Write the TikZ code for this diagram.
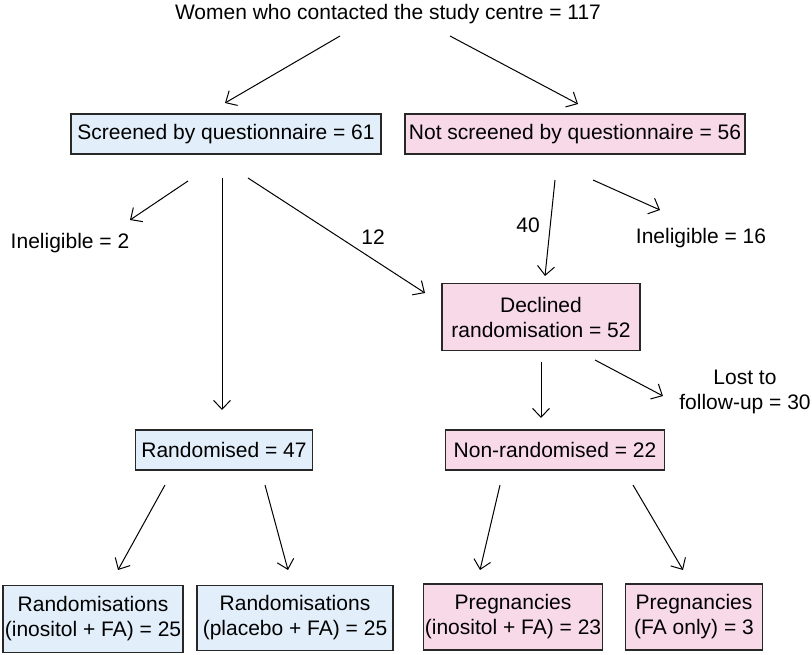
\documentclass[tikz,border=0pt]{standalone}
\usepackage{fontspec}
\setmainfont{Liberation Sans}
\usetikzlibrary{arrows.meta, calc}

\definecolor{scrblue}{RGB}{226,239,250}
\definecolor{declpink}{RGB}{248,217,232}
\definecolor{boxline}{RGB}{40,40,40}

\begin{document}
\begin{tikzpicture}[x=1pt, y=-1pt,
		every node/.style={font=\fontsize{21}{25}\selectfont, inner sep=1pt, align=center},
		bluebox/.style={draw=boxline, line width=1.2pt, fill=scrblue},
		pinkbox/.style={draw=boxline, line width=1.2pt, fill=declpink},
		arr/.style={-{Straight Barb[length=9pt, width=17pt]}, line width=1pt}]
		\useasboundingbox (0,0) rectangle (812,654);
		\node (title) at (388,14) {Women who contacted the study centre = 117};
		\node[bluebox, minimum width=310, minimum height=40] (scr) at (226,134) {Screened by questionnaire = 61};
		\node[pinkbox, minimum width=340, minimum height=40] (nscr) at (575,134) {Not screened by questionnaire = 56};
		\node (inel2) at (70,243) {Ineligible = 2};
		\node (twelve) at (373,237) {12};
		\node (forty) at (528,225) {40};
		\node (inel16) at (701,238) {Ineligible = 16};
		\node[pinkbox, minimum width=198, minimum height=67] (decl) at (541,317) {Declined\\randomisation = 52};
		\node (lost) at (745,392) {Lost to\\follow-up = 30};
		\node[bluebox, minimum width=177, minimum height=40] (rand) at (224,450) {Randomised = 47};
		\node[pinkbox, minimum width=219, minimum height=40] (nrand) at (555,450) {Non-randomised = 22};
		\node[bluebox, minimum width=180, minimum height=67] (rinos) at (93,619) {Randomisations\\(inositol + FA) = 25};
		\node[bluebox, minimum width=196, minimum height=65] (rplac) at (295,618) {Randomisations\\(placebo + FA) = 25};
		\node[pinkbox, minimum width=178, minimum height=66] (pinos) at (513,617) {Pregnancies\\(inositol + FA) = 23};
		\node[pinkbox, minimum width=137, minimum height=66] (pfa) at (694,617) {Pregnancies\\(FA only) = 3};

		\draw[arr] ($(title)+(-48,22)$) -- ($(scr)+(-1,-31)$);
		\draw[arr] ($(title)+(62,22)$) -- ($(nscr)+(3,-30)$);
		\draw[arr] ($(scr)+(-38,47)$) -- ($(inel2)+(60,-23)$);
		\draw[arr] ($(scr)+(-4,44)$) -- ($(rand)+(-2,-40)$);
		\draw[arr] ($(scr)+(22,44)$) -- ($(decl)+(-116,-24)$);
		\draw[arr] ($(nscr)+(-20,46)$) -- ($(decl)+(4,-41)$);
		\draw[arr] ($(nscr)+(18,46)$) -- ($(inel16)+(-41,-28)$);
		\draw[arr] ($(decl)+(0,45)$) -- ($(nrand)+(-14,-32)$);
		\draw[arr] ($(decl)+(54,43)$) -- ($(lost)+(-82,4)$);
		\draw[arr] ($(rand)+(-59,35)$) -- ($(rinos)+(25,-49)$);
		\draw[arr] ($(rand)+(41,35)$) -- ($(rplac)+(-7,-48)$);
		\draw[arr] ($(nrand)+(-55,35)$) -- ($(pinos)+(-33,-47)$);
		\draw[arr] ($(nrand)+(78,35)$) -- ($(pfa)+(-11,-47)$);
	\end{tikzpicture}
\end{document}
